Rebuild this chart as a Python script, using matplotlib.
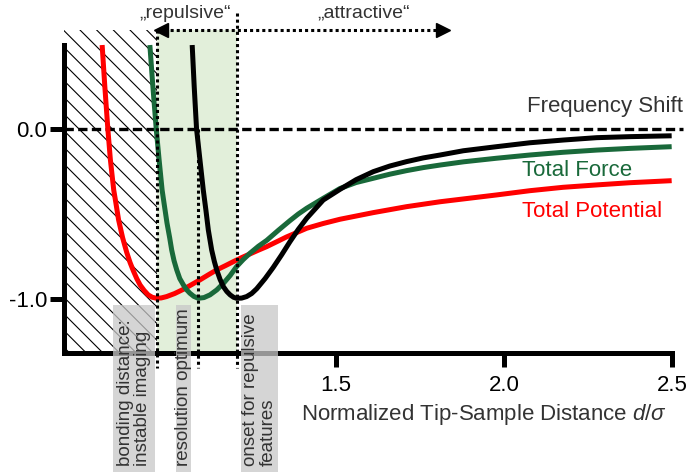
import matplotlib
matplotlib.use('Agg')
import matplotlib.pyplot as plt
from matplotlib.patches import Rectangle

plt.rcParams['font.family'] = ['Liberation Sans', 'DejaVu Sans']
plt.rcParams['mathtext.fontset'] = 'custom'
plt.rcParams['mathtext.rm'] = 'Liberation Sans'
plt.rcParams['mathtext.it'] = 'Liberation Sans:italic'
plt.rcParams['hatch.linewidth'] = 0.8

# ---- data ----
pot_x = [0.804, 0.812, 0.821, 0.8285, 0.8385, 0.8445, 0.853, 0.865, 0.877, 0.887,
         0.897, 0.907, 0.917, 0.929, 0.941, 0.953, 0.966, 0.980, 0.996, 1.020,
         1.046, 1.070, 1.095, 1.120, 1.145, 1.170, 1.194, 1.219, 1.244, 1.269,
         1.294, 1.353, 1.413, 1.462, 1.512, 1.611, 1.710, 1.810, 1.978, 2.077,
         2.176, 2.276, 2.375, 2.499]
pot_y = [0.494, 0.250, 0.000, -0.180, -0.359, -0.430, -0.535, -0.640, -0.725, -0.785,
         -0.835, -0.880, -0.918, -0.950, -0.976, -0.990, -0.996, -0.994, -0.986, -0.968,
         -0.943, -0.916, -0.888, -0.858, -0.829, -0.805, -0.781, -0.757, -0.735, -0.713,
         -0.692, -0.635, -0.584, -0.556, -0.531, -0.492, -0.457, -0.428, -0.388, -0.363,
         -0.343, -0.329, -0.316, -0.304]

force_x = [0.946, 0.955, 0.965, 0.9735, 0.9825, 0.9885, 0.997, 1.005, 1.011, 1.018,
           1.026, 1.035, 1.046, 1.055, 1.065, 1.077, 1.090, 1.107, 1.125, 1.145,
           1.165, 1.185, 1.204, 1.224, 1.244, 1.269, 1.294, 1.329, 1.363, 1.388,
           1.413, 1.462, 1.512, 1.560, 1.611, 1.660, 1.710, 1.760, 1.810, 1.880,
           1.978, 2.077, 2.176, 2.276, 2.375, 2.499]
force_y = [0.494, 0.250, 0.000, -0.180, -0.359, -0.440, -0.553, -0.640, -0.712, -0.775,
           -0.829, -0.880, -0.918, -0.945, -0.966, -0.985, -0.996, -0.992, -0.976, -0.947,
           -0.908, -0.862, -0.810, -0.768, -0.731, -0.690, -0.655, -0.595, -0.539, -0.500,
           -0.466, -0.408, -0.350, -0.315, -0.290, -0.266, -0.245, -0.227, -0.212, -0.193,
           -0.172, -0.153, -0.137, -0.124, -0.114, -0.104]

shift_x = [1.072, 1.078, 1.085, 1.095, 1.105, 1.113, 1.120, 1.130, 1.138, 1.145,
           1.155, 1.165, 1.175, 1.185, 1.195, 1.204, 1.219, 1.234, 1.249, 1.264,
           1.289, 1.313, 1.338, 1.363, 1.388, 1.413, 1.462, 1.512, 1.560, 1.611,
           1.660, 1.710, 1.760, 1.810, 1.879, 1.978, 2.077, 2.176, 2.276, 2.375,
           2.499]
shift_y = [0.494, 0.250, 0.000, -0.180, -0.359, -0.480, -0.594, -0.712, -0.780, -0.829,
           -0.885, -0.928, -0.956, -0.976, -0.990, -0.996, -0.995, -0.986, -0.968, -0.940,
           -0.880, -0.815, -0.741, -0.663, -0.590, -0.525, -0.418, -0.355, -0.298, -0.251,
           -0.218, -0.192, -0.170, -0.153, -0.128, -0.104, -0.081, -0.065, -0.051, -0.045,
           -0.040]

# marked distances (minima of the three curves)
d_bond, d_res, d_onset = 0.967, 1.089, 1.205
xticks = [1.5, 2.0, 2.5]
yticks = [0.0, -1.0]
ytick_labels = ['0.0', '-1.0']

RED = '#ff0000'
GREEN = '#19693a'
TXT = '#333333'

fig = plt.figure(figsize=(6.88, 4.72), dpi=100)
ax = fig.add_axes([64 / 688, 1 - 353 / 472, 608 / 688, 353 / 472])
ax.set_xlim(0.6905, 2.5)
ax.set_ylim(-1.318, 0.759)

# shaded regions
ax.add_patch(Rectangle((0.6905, -1.318), d_bond - 0.6905, 1.318 + 0.582,
                       fill=False, hatch='\\\\', edgecolor='black', lw=0, zorder=1))
ax.add_patch(Rectangle((d_bond, -1.318), d_onset - d_bond, 1.318 + 0.582,
                       facecolor='#e2efda', edgecolor='none', zorder=0.5))

# curves
ax.plot(pot_x, pot_y, color=RED, lw=3.6, zorder=3, solid_capstyle='butt')
ax.plot(force_x, force_y, color=GREEN, lw=3.6, zorder=3, solid_capstyle='butt')
ax.plot(shift_x, shift_y, color='black', lw=3.6, zorder=3, solid_capstyle='butt')

# zero line
ax.plot([0.6905, 2.533], [0, 0], color='black', lw=2.4, ls=(0, (2.8, 1.3)),
        zorder=2, clip_on=False)

# dotted verticals
dot = (0, (1, 1))
ax.plot([d_bond, d_bond], [0.582, -1.406], color='black', lw=2.2, ls=dot, zorder=4, clip_on=False)
ax.plot([d_res, d_res], [0.0, -1.406], color='black', lw=2.2, ls=dot, zorder=4, clip_on=False)
ax.plot([d_onset, d_onset], [0.682, -1.406], color='black', lw=2.2, ls=dot, zorder=4, clip_on=False)

# repulsive / attractive arrow
ax.plot([d_bond + 0.02, 1.81], [0.582, 0.582], color='black', lw=2.2, ls=dot, zorder=4)
ax.plot([d_bond + 0.013], [0.582], marker='<', ms=10, color='black', zorder=4)
ax.plot([1.817], [0.582], marker='>', ms=10, color='black', zorder=4)
ax.text(1.051, 0.682, '\u201erepulsive\u201c', fontsize=14, color=TXT, ha='center', va='center')
ax.text(1.583, 0.682, '\u201eattractive\u201c', fontsize=14, color=TXT, ha='center', va='center')

# curve labels
ax.text(2.533, 0.135, 'Frequency Shift', fontsize=16, color=TXT, ha='right', va='center', clip_on=False)
ax.text(2.054, -0.247, 'Total Force', fontsize=16, color=GREEN, ha='left', va='center')
ax.text(2.054, -0.488, 'Total Potential', fontsize=16, color=RED, ha='left', va='center')

# gray annotation boxes
boxes = [(0.836, 0.961, 0.899, 'bonding distance:\ninstable imaging'),
         (1.024, 1.068, 1.046, 'resolution optimum'),
         (1.217, 1.327, 1.272, 'onset for repulsive\nfeatures')]
for x0, x1, xc, label in boxes:
    ax.add_patch(Rectangle((x0, -2.03), x1 - x0, 2.03 - 1.035, facecolor='#c8c8c8',
                           edgecolor='none', alpha=0.75, zorder=5, clip_on=False))
    ax.text(xc, -1.982, label, rotation=90, fontsize=13.5, color=TXT, ha='center',
            va='bottom', multialignment='left', linespacing=1.0, zorder=6, clip_on=False)

# axes styling
for s in ['top', 'right']:
    ax.spines[s].set_visible(False)
ax.spines['left'].set_linewidth(3.6)
ax.spines['bottom'].set_linewidth(3.6)
ax.spines['left'].set_bounds(-1.318, 0.497)
ax.spines['left'].set_capstyle('projecting')
ax.spines['bottom'].set_capstyle('projecting')
ax.set_xticks(xticks)
ax.set_xticklabels([f'{t:.1f}' for t in xticks])
ax.set_yticks(yticks)
ax.set_yticklabels(ytick_labels)
ax.tick_params(axis='both', length=10, width=3.6, labelsize=16, colors='black')
ax.tick_params(axis='x', pad=6)
ax.tick_params(axis='y', pad=2)

ax.text(2.485, -1.682, r'Normalized Tip-Sample Distance $d/\sigma$', fontsize=16,
        color=TXT, ha='right', va='center', clip_on=False)

fig.savefig('out.png', dpi=100)
